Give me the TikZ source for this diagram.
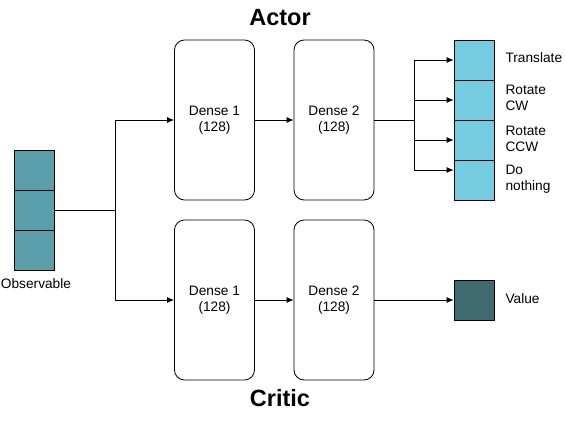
\documentclass[tikz,border=0pt]{standalone}
\usepackage{fontspec}
\setmainfont{Liberation Sans}
\usetikzlibrary{arrows.meta}
\definecolor{obsc}{HTML}{5A9FAB}
\definecolor{actc}{HTML}{75CCE0}
\definecolor{valc}{HTML}{3E6A70}
\tikzset{
  dense/.style={draw, rounded corners=10pt, minimum width=80pt, minimum height=160pt, align=center, font=\fontsize{13.7}{16}\selectfont, line width=0.8pt},
  cell/.style={draw, minimum width=40pt, minimum height=40pt, line width=0.8pt},
  lbl/.style={font=\fontsize{13.7}{16}\selectfont, align=left, anchor=west},
  title/.style={font=\fontsize{23.5}{28}\selectfont\bfseries},
  conn/.style={line width=0.8pt},
  arr/.style={conn, -{Latex[length=7pt,width=6pt]}}
}
\begin{document}
\begin{tikzpicture}[x=1pt,y=-1pt]
\useasboundingbox (0,0) rectangle (565,421);
% observable
\node[cell, fill=obsc] (o1) at (34,170) {};
\node[cell, fill=obsc] (o2) at (34,210) {};
\node[cell, fill=obsc] (o3) at (34,250) {};
\node[font=\fontsize{13.7}{16}\selectfont] (olbl) at (36,284) {Observable};
% actor
\node[dense] (a1) at (214.5,120) {Dense 1\\(128)};
\node[dense] (a2) at (334,120) {Dense 2\\(128)};
\node[cell, fill=actc] (c1) at (474,60) {};
\node[cell, fill=actc] (c2) at (474,100) {};
\node[cell, fill=actc] (c3) at (474,140) {};
\node[cell, fill=actc] (c4) at (474,180) {};
\node[lbl] (t1) at (502,58) {Translate};
\node[lbl] (t2) at (502,98) {Rotate\\CW};
\node[lbl] (t3) at (502,139) {Rotate\\CCW};
\node[lbl] (t4) at (502,179) {Do\\nothing};
% critic
\node[dense] (b1) at (214.5,300) {Dense 1\\(128)};
\node[dense] (b2) at (334,300) {Dense 2\\(128)};
\node[cell, fill=valc] (v) at (474,300) {};
\node[lbl] (vl) at (502,299) {Value};
% titles
\node[title] (at) at (280,18) {Actor};
\node[title] (ct) at (280,398) {Critic};
% connectors
\coordinate (j) at (115,210);
\draw[conn] (o2.east) -- (j);
\draw[arr] (j) |- (a1.west);
\draw[arr] (j) |- (b1.west);
\draw[arr] (a1.east) -- (a2.west);
\draw[arr] (b1.east) -- (b2.west);
\coordinate (k) at (414,120);
\draw[conn] (a2.east) -- (k);
\draw[arr] (k) |- (c1.west);
\draw[arr] (k) |- (c2.west);
\draw[arr] (k) |- (c3.west);
\draw[arr] (k) |- ([yshift=10pt]c4.west);
\draw[arr] (b2.east) -- (v.west);
\end{tikzpicture}
\end{document}
